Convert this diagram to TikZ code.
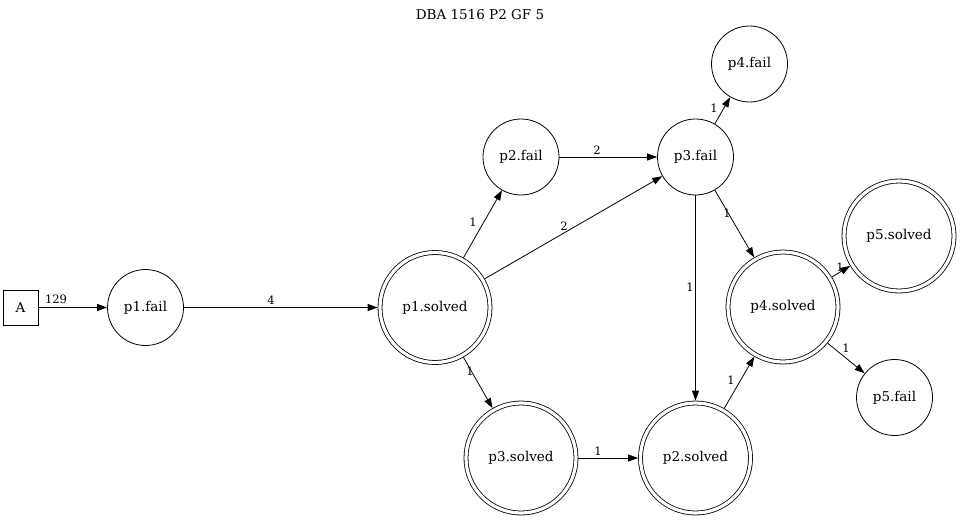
\documentclass[tikz,border=0pt]{standalone}
\usepackage{fontspec}
\setmainfont{DejaVu Serif}
\usetikzlibrary{arrows.meta}
\begin{document}
\begin{tikzpicture}[x=1pt,y=-1pt,
  txt/.style={font=\fontsize{13.5}{16}\selectfont},
  state/.style={txt,circle,draw,line width=0.8pt,minimum size=76pt,inner sep=0pt},
  final/.style={txt,circle,draw,line width=0.8pt,double,double distance=3.2pt,
                minimum size=110pt,outer sep=2.4pt,inner sep=0pt},
  startbox/.style={txt,rectangle,draw,line width=0.8pt,minimum size=35pt,inner sep=0pt},
  edge/.style={line width=0.8pt,-{Triangle[length=10pt,width=7pt]}},
  lbl/.style={font=\fontsize{11.5}{13}\selectfont,inner sep=0pt}]
  \useasboundingbox (0,0) rectangle (960,519);

  % title
  \node[txt] (title) at (480,15) {DBA 1516 P2 GF 5};

  % states
  \node[startbox] (A)   at (20.5,307.5) {A};
  \node[state]    (p1f) at (145.5,307.5) {p1.fail};
  \node[final]    (p1s) at (435,307.5) {p1.solved};
  \node[state]    (p2f) at (521,157) {p2.fail};
  \node[state]    (p3f) at (695.5,157) {p3.fail};
  \node[state]    (p4f) at (749.5,64) {p4.fail};
  \node[final]    (p3s) at (521,458) {p3.solved};
  \node[final]    (p2s) at (695.5,458) {p2.solved};
  \node[final]    (p4s) at (783,307) {p4.solved};
  \node[final]    (p5s) at (899,236) {p5.solved};
  \node[state]    (p5f) at (894.5,397.5) {p5.fail};

  % transitions
  \draw[edge] (A)   -- (p1f);
  \draw[edge] (p1f) -- (p1s);
  \draw[edge] (p1s) -- (p2f);
  \draw[edge] (p1s) -- (p3f);
  \draw[edge] (p1s) -- (p3s);
  \draw[edge] (p2f) -- (p3f);
  \draw[edge] (p3f) -- (p4f);
  \draw[edge] (p3f) -- (p4s);
  \draw[edge] (p3f) -- (p2s);
  \draw[edge] (p3s) -- (p2s);
  \draw[edge] (p2s) -- (p4s);
  \draw[edge] (p4s) -- (p5s);
  \draw[edge] (p4s) -- (p5f);

  % transition counts
  \node[lbl] (l1)  at (56,299)  {129};
  \node[lbl] (l2)  at (271,300) {4};
  \node[lbl] (l3)  at (473,222) {1};
  \node[lbl] (l4)  at (564,226) {2};
  \node[lbl] (l5)  at (470,371) {1};
  \node[lbl] (l6)  at (597,150) {2};
  \node[lbl] (l7)  at (714,108) {1};
  \node[lbl] (l8)  at (727,213) {1};
  \node[lbl] (l9)  at (690,287) {1};
  \node[lbl] (l10) at (598,451) {1};
  \node[lbl] (l11) at (731,380) {1};
  \node[lbl] (l12) at (840,267) {1};
  \node[lbl] (l13) at (846,348) {1};
\end{tikzpicture}
\end{document}
